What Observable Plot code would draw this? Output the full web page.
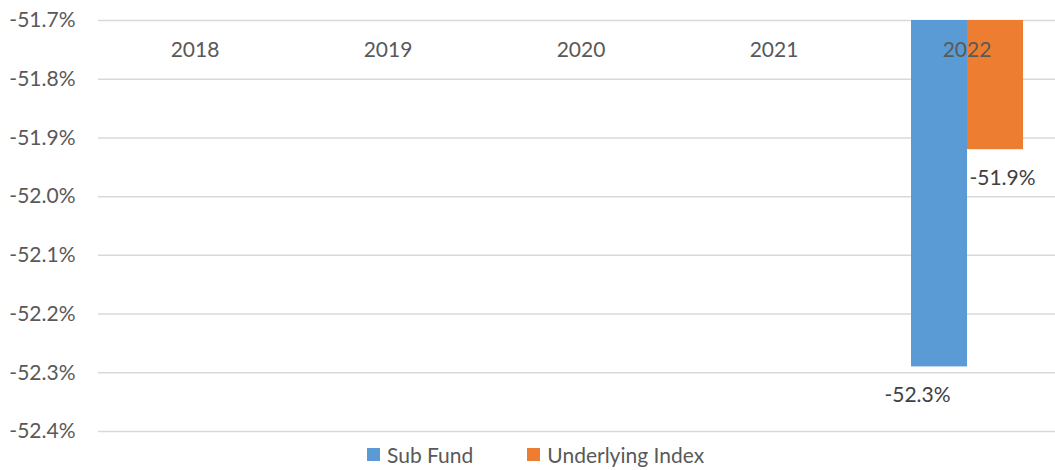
<!DOCTYPE html>
<html>
<head>
<meta charset="utf-8">
<script src="https://cdn.jsdelivr.net/npm/d3@7"></script>
<script src="https://cdn.jsdelivr.net/npm/@observablehq/plot@0.6"></script>
<style>
  html, body { margin: 0; padding: 0; background: #fff; overflow: hidden; }
  #chart { width: 1055px; }
  .legend { display: flex; justify-content: flex-start; align-items: center; font-family: Lato, sans-serif; font-size: 21px; color: #595959; height: 26px; margin-left: 367px; }
  .legend .item { display: flex; align-items: center; }
  .legend .sw { width: 13px; height: 13px; margin-right: 7px; }
</style>
</head>
<body>
<div id="chart"></div>
<script>
const years = ["2018", "2019", "2020", "2021", "2022"];
const series = ["Sub Fund", "Underlying Index"];
const colors = ["#5B9BD5", "#ED7D31"];
const subFund = [null, null, null, null, -52.29];
const underlyingIndex = [null, null, null, null, -51.92];
const yTicks = [-51.7, -51.8, -51.9, -52.0, -52.1, -52.2, -52.3, -52.4];
const baseline = -51.7;

const rows = [];
years.forEach((yr, i) => {
  if (subFund[i] != null) rows.push({year: yr, series: series[0], value: subFund[i]});
  if (underlyingIndex[i] != null) rows.push({year: yr, series: series[1], value: underlyingIndex[i]});
});
const fmt = d => d.toFixed(1) + "%";
const font = "Lato, sans-serif";

const plot = Plot.plot({
  width: 1055,
  height: 441,
  marginLeft: 98,
  marginRight: 0,
  marginTop: 20,
  marginBottom: 10,
  style: {fontFamily: font, fontSize: "21px", color: "#595959", background: "#fff"},
  fx: {domain: years, range: [98, 1063], padding: 0, axis: null},
  x: {domain: series, paddingInner: 0, paddingOuter: 0.72, axis: null},
  y: {domain: [-52.4, -51.7], ticks: yTicks, tickFormat: fmt, tickSize: 0, tickPadding: 23, label: null},
  color: {domain: series, range: colors},
  marks: [
    Plot.ruleY(yTicks, {y: d => d, stroke: "#D9D9D9", strokeWidth: 1.5}),
    Plot.barY(rows, {fx: "year", x: "series", y1: baseline, y2: "value", fill: "series"}),
    Plot.text(years, {fx: d => d, y: baseline, text: d => d, dy: 30, fill: "#595959", fontSize: 21}),
    Plot.text(rows.filter(d => d.series === series[0]), {fx: "year", x: "series", y: "value", text: d => fmt(d.value), dy: 28, dx: -22, fill: "#404040", fontSize: 21}),
    Plot.text(rows.filter(d => d.series === series[1]), {fx: "year", x: "series", y: "value", text: d => fmt(d.value), dy: 29, dx: 7, fill: "#404040", fontSize: 21})
  ]
});
document.getElementById("chart").appendChild(plot);

const legend = document.createElement("div");
legend.className = "legend";
series.forEach((s, i) => {
  const it = document.createElement("div");
  it.className = "item";
  it.style.marginRight = i === 0 ? "54px" : "0";
  const sw = document.createElement("span");
  sw.className = "sw";
  sw.style.background = colors[i];
  const t = document.createElement("span");
  t.textContent = s;
  it.appendChild(sw); it.appendChild(t);
  legend.appendChild(it);
});
document.getElementById("chart").appendChild(legend);
</script>
</body>
</html>
